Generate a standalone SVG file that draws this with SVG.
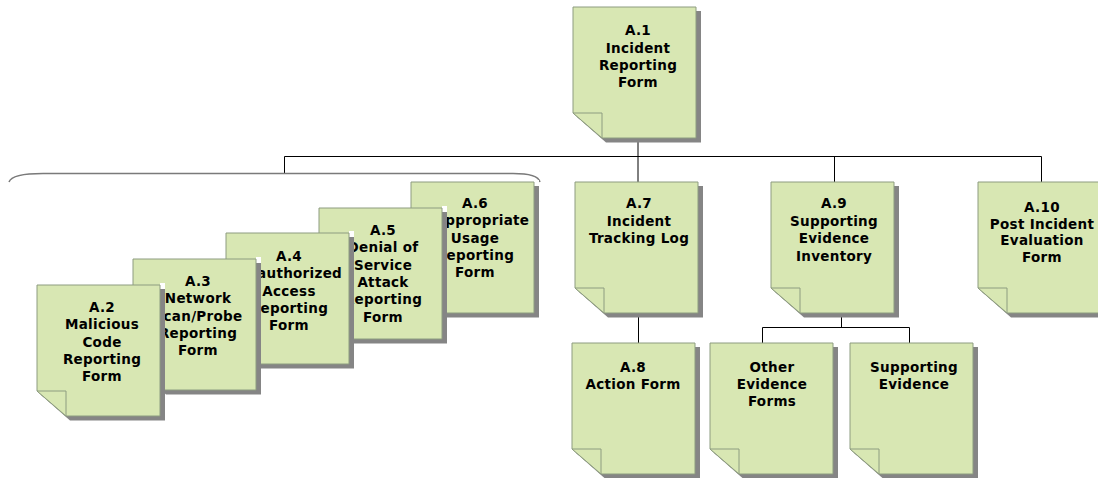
<svg xmlns="http://www.w3.org/2000/svg" xmlns:xlink="http://www.w3.org/1999/xlink" width="1098" height="478" viewBox="0 0 1098 478">
<style>
.t{font-family:"DejaVu Sans","Liberation Sans",sans-serif;font-weight:bold;font-size:13.5px;letter-spacing:0.3px;fill:#000;text-anchor:middle}
.c{fill:none;stroke:#000;stroke-width:1}
.brace{fill:none;stroke:#7a7a7a;stroke-width:1.5}
.sh{fill:#858585}
.pg{fill:#d8e7b3;stroke:#8d9c80;stroke-width:1}
</style>
<defs>
<g id="note">
<rect x="123" y="-2" width="5" height="6" fill="#fff"/>
<polygon class="sh" points="4,4 128,4 128,135.5 33,135.5 4,110"/>
<polygon class="pg" points="0,0 123,0 123,131 29,131 0,106"/>
<polygon class="pg" points="0,106 29,106 29,131"/>
</g>
</defs>
<rect width="1098" height="478" fill="#fff"/>
<g id="connectors">
<path class="c" d="M638,140 V182"/>
<path class="c" d="M284.5,173 V156.5 H1041.5 V182"/>
<path class="c" d="M834.5,156.5 V182"/>
<path class="brace" d="M9,182 Q12,173.5 43,173.5 L513,173.5 Q538,173.5 540,182"/>
<path class="c" d="M638.5,316 V343"/>
<path class="c" d="M841.5,316 V327.5 M762.5,343 V327.5 H909.5 V343"/>
</g>
<g id="A1">
<use xlink:href="#note" x="573" y="7"/>
<text class="t" x="638" y="35">A.1</text>
<text class="t" x="638" y="52.5">Incident</text>
<text class="t" x="638" y="69.8">Reporting</text>
<text class="t" x="638" y="87">Form</text>
</g>
<g id="A6">
<use xlink:href="#note" x="411" y="182"/>
<text class="t" x="475" y="208">A.6</text>
<text class="t" x="475" y="225.3">Inappropriate</text>
<text class="t" x="475" y="242.6">Usage</text>
<text class="t" x="475" y="259.9">Reporting</text>
<text class="t" x="475" y="277.2">Form</text>
</g>
<g id="A5">
<use xlink:href="#note" x="319" y="208"/>
<text class="t" x="383" y="235">A.5</text>
<text class="t" x="383" y="252.3">Denial of</text>
<text class="t" x="383" y="269.6">Service</text>
<text class="t" x="383" y="286.9">Attack</text>
<text class="t" x="383" y="304.2">Reporting</text>
<text class="t" x="383" y="321.5">Form</text>
</g>
<g id="A4">
<use xlink:href="#note" x="226" y="233"/>
<text class="t" x="289" y="261">A.4</text>
<text class="t" x="289" y="278.3">Unauthorized</text>
<text class="t" x="289" y="295.6">Access</text>
<text class="t" x="289" y="312.9">Reporting</text>
<text class="t" x="289" y="330.2">Form</text>
</g>
<g id="A3">
<use xlink:href="#note" x="133" y="259"/>
<text class="t" x="198" y="286">A.3</text>
<text class="t" x="198" y="303.3">Network</text>
<text class="t" x="198" y="320.6">Scan/Probe</text>
<text class="t" x="198" y="337.9">Reporting</text>
<text class="t" x="198" y="355.2">Form</text>
</g>
<g id="A2">
<use xlink:href="#note" x="37" y="285"/>
<text class="t" x="102" y="312">A.2</text>
<text class="t" x="102" y="329.3">Malicious</text>
<text class="t" x="102" y="346.6">Code</text>
<text class="t" x="102" y="363.9">Reporting</text>
<text class="t" x="102" y="381.2">Form</text>
</g>
<g id="A7">
<use xlink:href="#note" x="575" y="182"/>
<text class="t" x="639" y="208">A.7</text>
<text class="t" x="639" y="225.5">Incident</text>
<text class="t" x="639" y="243">Tracking Log</text>
</g>
<g id="A9">
<use xlink:href="#note" x="771" y="182"/>
<text class="t" x="834" y="208">A.9</text>
<text class="t" x="834" y="225.5">Supporting</text>
<text class="t" x="834" y="243">Evidence</text>
<text class="t" x="834" y="260.5">Inventory</text>
</g>
<g id="A10">
<use xlink:href="#note" x="978" y="182"/>
<text class="t" x="1042" y="212">A.10</text>
<text class="t" x="1042" y="228.5">Post Incident</text>
<text class="t" x="1042" y="245">Evaluation</text>
<text class="t" x="1042" y="261.5">Form</text>
</g>
<g id="A8">
<use xlink:href="#note" x="572" y="343"/>
<text class="t" x="633" y="372">A.8</text>
<text class="t" x="633" y="389">Action Form</text>
</g>
<g id="OtherEvidence">
<use xlink:href="#note" x="710" y="343"/>
<text class="t" x="772" y="372">Other</text>
<text class="t" x="772" y="389">Evidence</text>
<text class="t" x="772" y="406">Forms</text>
</g>
<g id="SupportingEvidence">
<use xlink:href="#note" x="850" y="343"/>
<text class="t" x="914" y="372">Supporting</text>
<text class="t" x="914" y="389">Evidence</text>
</g>
</svg>
